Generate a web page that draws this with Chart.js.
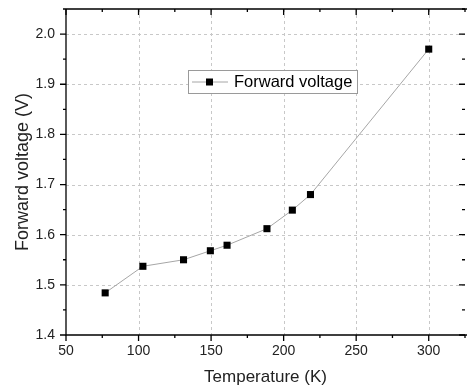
<!DOCTYPE html>
<html>
<head>
<meta charset="utf-8">
<script src="https://cdn.jsdelivr.net/npm/chart.js@4.4.1/dist/chart.umd.min.js"></script>
<style>
  html, body { margin: 0; padding: 0; background: #fff; }
  #wrap { width: 470px; height: 388px; }
</style>
</head>
<body>
<div id="wrap"><canvas id="vfChart" width="470" height="388"></canvas></div>
<script>
const temperature = [77, 103, 131, 149.5, 161, 188.5, 206, 218.5, 300];
const forwardVoltage = [1.484, 1.537, 1.550, 1.568, 1.579, 1.612, 1.649, 1.680, 1.970];
const seriesLabel = 'Forward voltage';
const xTitle = 'Temperature (K)';
const yTitle = 'Forward voltage (V)';

const FONT = 'Arial, "Liberation Sans", sans-serif';

// grid, mirrored axes, minor ticks and the boxed legend, drawn like the Origin plot
const frame = {
  id: 'frame',
  beforeDatasetsDraw(chart) {
    const { ctx, chartArea: a, scales: { x, y } } = chart;
    ctx.save();
    ctx.strokeStyle = '#c8c8c8';
    ctx.lineWidth = 1;
    ctx.setLineDash([3, 3]);
    x.ticks.forEach(t => {
      if (t.value <= x.min) return;
      const px = Math.round(x.getPixelForValue(t.value)) + 0.5;
      ctx.beginPath(); ctx.moveTo(px, a.top); ctx.lineTo(px, a.bottom); ctx.stroke();
    });
    y.ticks.forEach(t => {
      if (t.value <= y.min) return;
      const py = Math.round(y.getPixelForValue(t.value)) + 0.5;
      ctx.beginPath(); ctx.moveTo(a.left, py); ctx.lineTo(a.right, py); ctx.stroke();
    });
    ctx.restore();
  },
  afterDatasetsDraw(chart) {
    const { ctx, chartArea: a, scales: { x, y } } = chart;
    ctx.save();
    ctx.strokeStyle = '#000';
    ctx.lineWidth = 1.3;
    ctx.beginPath();
    ctx.moveTo(a.left, a.top); ctx.lineTo(a.right + 2, a.top);
    ctx.moveTo(a.left, a.top); ctx.lineTo(a.left, a.bottom); ctx.lineTo(a.right + 2, a.bottom);
    ctx.stroke();

    // x ticks: bottom outward, top inward
    for (let v = 50; v <= x.max; v += 25) {
      const px = x.getPixelForValue(v);
      const major = v % 50 === 0;
      ctx.beginPath();
      ctx.moveTo(px, a.bottom); ctx.lineTo(px, a.bottom + (major ? 6 : 3));
      ctx.moveTo(px, a.top); ctx.lineTo(px, a.top + (major ? 6 : 3));
      ctx.stroke();
    }
    // y ticks: left outward, right inward
    for (let i = 0; i * 0.05 + 1.4 <= y.max + 1e-9; i++) {
      const py = y.getPixelForValue(1.4 + i * 0.05);
      const major = i % 2 === 0;
      ctx.beginPath();
      ctx.moveTo(a.left, py); ctx.lineTo(a.left - (major ? 6 : 3), py);
      ctx.moveTo(a.right, py); ctx.lineTo(a.right - (major ? 6 : 3), py);
      ctx.stroke();
    }

    // legend box
    const ds = chart.data.datasets[0];
    const bx = 188, by = 70, bw = 169, bh = 23;
    ctx.fillStyle = '#fff';
    ctx.fillRect(bx, by, bw, bh);
    ctx.strokeStyle = '#9a9a9a';
    ctx.lineWidth = 1;
    ctx.strokeRect(bx + 0.5, by + 0.5, bw, bh);
    const cy = by + bh / 2 + 0.5;
    ctx.strokeStyle = ds.borderColor;
    ctx.beginPath(); ctx.moveTo(bx + 4, cy); ctx.lineTo(bx + 40, cy); ctx.stroke();
    ctx.fillStyle = '#000';
    ctx.fillRect(bx + 18, cy - 3.5, 7, 7);
    ctx.font = '16.5px ' + FONT;
    ctx.textBaseline = 'middle';
    ctx.fillText(ds.label, bx + 46, cy + 0.5);
    ctx.restore();
  }
};

const noPad = s => { s.paddingTop = 0; s.paddingBottom = 0; s.paddingLeft = 0; s.paddingRight = 0; };

new Chart(document.getElementById('vfChart'), {
  type: 'scatter',
  data: {
    datasets: [{
      label: seriesLabel,
      data: temperature.map((t, i) => ({ x: t, y: forwardVoltage[i] })),
      showLine: true,
      borderColor: '#a6a6a6',
      borderWidth: 1,
      pointStyle: 'rect',
      pointRadius: 5,
      pointHoverRadius: 5,
      pointBackgroundColor: '#000',
      pointBorderColor: '#000',
      pointBorderWidth: 0
    }]
  },
  options: {
    responsive: false,
    animation: false,
    events: [],
    layout: { padding: { top: 9, right: 0, left: 0, bottom: 0 } },
    plugins: { legend: { display: false }, tooltip: { enabled: false } },
    scales: {
      x: {
        type: 'linear',
        min: 50, max: 325,
        grid: { display: false, drawTicks: false, tickLength: 0 },
        border: { display: false },
        ticks: {
          stepSize: 50, includeBounds: false, padding: 8,
          color: '#222', font: { family: FONT, size: 14 },
          maxRotation: 0
        },
        title: {
          display: true, text: xTitle, color: '#222',
          font: { family: FONT, size: 17 }, padding: { top: 0, bottom: 0 }
        },
        afterFit(s) { s.height = 53; noPad(s); }
      },
      y: {
        min: 1.4, max: 2.05,
        grid: { display: false, drawTicks: false, tickLength: 0 },
        border: { display: false },
        ticks: {
          stepSize: 0.1, includeBounds: false, padding: 11,
          color: '#222', font: { family: FONT, size: 14 },
          callback: v => v.toFixed(1)
        },
        title: {
          display: true, text: yTitle, color: '#222',
          font: { family: FONT, size: 18 }, padding: { top: 12, bottom: 0 }
        },
        afterFit(s) { s.width = 66; noPad(s); }
      }
    }
  },
  plugins: [frame]
});
</script>
</body>
</html>
